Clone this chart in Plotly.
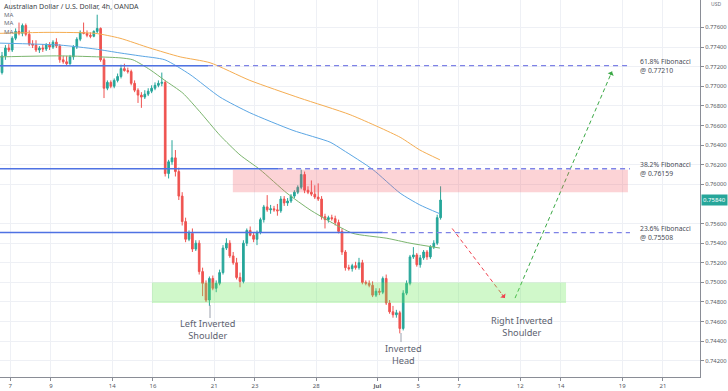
import plotly.graph_objects as go

# ---------------- data ----------------
opens = [0.7714,0.7731,0.7739,0.7737,0.7749,0.7756,0.7754,0.7762,0.7753,0.7743,
         0.7742,0.7737,0.7739,0.7738,0.7742,0.7740,0.7745,0.7741,0.7727,0.7725,
         0.7723,0.7730,0.7740,0.7748,0.7755,0.7754,0.7752,0.7751,0.7756,0.7759,
         0.7727,0.7698,0.7704,0.7700,0.7706,0.7710,0.7718,0.7716,0.7715,0.7703,
         0.7696,0.7691,0.7689,0.7692,0.7695,0.7698,0.7701,0.7703,0.7704,0.7611,
         0.7623,0.7627,0.7613,0.7588,0.7562,0.7544,0.7550,0.7534,0.7540,0.7511,
         0.7499,0.7482,0.7504,0.7494,0.7499,0.7510,0.7535,0.7540,0.7527,0.7520,
         0.7505,0.7501,0.7540,0.7553,0.7548,0.7544,0.7551,0.7564,0.7577,0.7574,
         0.7575,0.7574,0.7573,0.7585,0.7581,0.7583,0.7588,0.7592,0.7597,0.7610,
         0.7594,0.7592,0.7590,0.7587,0.7585,0.7567,0.7564,0.7566,0.7565,0.7561,
         0.7552,0.7531,0.7515,0.7514,0.7517,0.7515,0.7520,0.7500,0.7499,0.7497,
         0.7487,0.7491,0.7490,0.7504,0.7479,0.7470,0.7467,0.7469,0.7453,0.7489,
         0.7499,0.7526,0.7528,0.7518,0.7525,0.7531,0.7526,0.7536,0.7540,0.7566]
highs = [0.7735,0.7742,0.7743,0.7751,0.7759,0.7765,0.7764,0.7764,0.7757,0.7747,
         0.7747,0.7741,0.7743,0.7744,0.7745,0.7747,0.7749,0.7743,0.7731,0.7731,
         0.7732,0.7742,0.7750,0.7757,0.7765,0.7757,0.7755,0.7757,0.7773,0.7760,
         0.7729,0.7706,0.7706,0.7708,0.7713,0.7722,0.7723,0.7719,0.7717,0.7706,
         0.7698,0.7694,0.7696,0.7698,0.7701,0.7704,0.7706,0.7714,0.7706,0.7625,
         0.7645,0.7635,0.7617,0.7592,0.7566,0.7553,0.7555,0.7543,0.7543,0.7515,
         0.7502,0.7506,0.7507,0.7502,0.7513,0.7538,0.7545,0.7543,0.7531,0.7525,
         0.7510,0.7543,0.7555,0.7557,0.7551,0.7553,0.7566,0.7579,0.7589,0.7579,
         0.7578,0.7580,0.7588,0.7588,0.7586,0.7590,0.7594,0.7599,0.7615,0.7613,
         0.7598,0.7604,0.7599,0.7601,0.7588,0.7570,0.7568,0.7569,0.7568,0.7564,
         0.7555,0.7533,0.7518,0.7519,0.7521,0.7525,0.7523,0.7502,0.7502,0.7501,
         0.7494,0.7494,0.7506,0.7508,0.7482,0.7476,0.7472,0.7471,0.7492,0.7502,
         0.7528,0.7536,0.7530,0.7528,0.7533,0.7533,0.7538,0.7543,0.7569,0.7598]
lows  = [0.7712,0.7727,0.7735,0.7735,0.7747,0.7752,0.7751,0.7751,0.7741,0.7739,
         0.7735,0.7734,0.7735,0.7736,0.7737,0.7738,0.7739,0.7724,0.7723,0.7721,
         0.7722,0.7727,0.7738,0.7746,0.7753,0.7750,0.7749,0.7750,0.7754,0.7725,
         0.7688,0.7696,0.7698,0.7698,0.7704,0.7708,0.7715,0.7713,0.7701,0.7694,
         0.7683,0.7678,0.7687,0.7690,0.7693,0.7696,0.7699,0.7700,0.7608,0.7606,
         0.7620,0.7608,0.7584,0.7558,0.7541,0.7542,0.7531,0.7532,0.7508,0.7486,
         0.7480,0.7476,0.7492,0.7490,0.7497,0.7508,0.7533,0.7525,0.7518,0.7503,
         0.7495,0.7499,0.7537,0.7547,0.7541,0.7538,0.7549,0.7561,0.7572,0.7570,
         0.7572,0.7568,0.7571,0.7578,0.7578,0.7581,0.7586,0.7590,0.7595,0.7591,
         0.7590,0.7588,0.7585,0.7583,0.7564,0.7555,0.7561,0.7563,0.7558,0.7550,
         0.7528,0.7512,0.7512,0.7511,0.7513,0.7513,0.7498,0.7497,0.7495,0.7485,
         0.7485,0.7487,0.7488,0.7477,0.7468,0.7464,0.7464,0.7448,0.7451,0.7487,
         0.7497,0.7524,0.7516,0.7515,0.7523,0.7523,0.7524,0.7534,0.7538,0.7564]
closes = [0.7731,0.7739,0.7737,0.7749,0.7756,0.7754,0.7762,0.7753,0.7743,0.7742,
          0.7737,0.7739,0.7738,0.7742,0.7740,0.7745,0.7741,0.7727,0.7725,0.7723,
          0.7730,0.7740,0.7748,0.7755,0.7754,0.7752,0.7751,0.7756,0.7759,0.7727,
          0.7698,0.7704,0.7700,0.7706,0.7710,0.7718,0.7716,0.7715,0.7703,0.7696,
          0.7691,0.7689,0.7692,0.7695,0.7698,0.7701,0.7703,0.7704,0.7611,0.7623,
          0.7627,0.7613,0.7588,0.7562,0.7544,0.7550,0.7534,0.7540,0.7511,0.7499,
          0.7482,0.7504,0.7494,0.7499,0.7510,0.7535,0.7540,0.7527,0.7520,0.7505,
          0.7501,0.7540,0.7553,0.7548,0.7544,0.7551,0.7564,0.7577,0.7574,0.7575,
          0.7574,0.7573,0.7585,0.7581,0.7583,0.7588,0.7592,0.7597,0.7610,0.7594,
          0.7592,0.7590,0.7587,0.7585,0.7567,0.7564,0.7566,0.7565,0.7561,0.7552,
          0.7531,0.7515,0.7514,0.7517,0.7515,0.7520,0.7500,0.7499,0.7497,0.7487,
          0.7491,0.7490,0.7504,0.7479,0.7470,0.7467,0.7469,0.7453,0.7489,0.7499,
          0.7526,0.7528,0.7518,0.7525,0.7531,0.7526,0.7536,0.7540,0.7566,0.7584]
bar_index = list(range(len(closes)))

ma_orange_x = [-0.6, 14.1, 27.4, 34.7, 43.5, 52.4, 61.2, 72.9, 87.6, 102.4, 117.1, 122.9, 128.8]
ma_orange_y = [0.7754, 0.7755, 0.7754, 0.7749, 0.7739, 0.7730, 0.7724, 0.7706, 0.7688, 0.7671, 0.7648, 0.7635, 0.7625]
ma_blue_x = [-0.6, 17.1, 27.4, 34.7, 40.6, 47.9, 55.3, 64.1, 72.9, 85.6, 96.5, 100.3, 109.1, 117.1, 122.9, 128.8]
ma_blue_y = [0.7744, 0.7742, 0.7738, 0.7734, 0.7731, 0.7727, 0.7712, 0.7689, 0.7673, 0.7655, 0.7643, 0.7635, 0.7615, 0.7591, 0.7579, 0.7570]
ma_green_x = [-0.6, 17.1, 34.7, 38.5, 43.5, 47.9, 53.2, 58.2, 64.1, 70.0, 75.9, 83.8, 90.6, 96.5, 103.2, 113.2, 120.0, 128.8]
ma_green_y = [0.7730, 0.7731, 0.7729, 0.7727, 0.7717, 0.7706, 0.7693, 0.7674, 0.7650, 0.7630, 0.7615, 0.7591, 0.7574, 0.7562, 0.7550, 0.7545, 0.7540, 0.7535]

fib_levels = [0.77210, 0.76159, 0.75508]
fib_names = ["61.8% Fibonacci", "38.2% Fibonacci", "23.6% Fibonacci"]
fib_value_text = ["@ 0.77210", "@ 0.76159", "@ 0.75508"]
fib_solid_end = [60.6, 81.2, 112.0]

resistance_zone = [0.7592, 0.7615]
support_zone = [0.7479, 0.7500]

proj_red_x = [132.4, 147.9]
proj_red_y = [0.7555, 0.7484]
proj_green_x = [150.9, 179.4]
proj_green_y = [0.7484, 0.7715]

pattern_labels = ["Left Inverted<br>Shoulder", "Inverted<br>Head", "Right Inverted<br>Shoulder"]

tick_days = [0, 2, 5, 7, 10, 12, 15, 18, 20, 22, 25, 27, 30, 32]
tick_text = ['7', '9', '14', '16', '21', '23', '28', '<b>Jul</b>', '5', '7', '12', '14', '19', '21']
price_ticks = [0.742, 0.744, 0.746, 0.748, 0.750, 0.752, 0.754, 0.756, 0.760,
               0.762, 0.764, 0.766, 0.768, 0.770, 0.772, 0.774, 0.776]
last_price = 0.7584

# ---------------- layout helpers ----------------
W, H = 728, 391
ML, MR, MT, MB = 0, 28, 0, 14
PW, PH = W - ML - MR, H - MT - MB
X0, X1 = -0.59, 205.3
Y0, Y1 = 0.74035, 0.7788
FONT = "Noto Sans, DejaVu Sans, sans-serif"

def px(x):
    return x / PW
def py(y):
    return 1 - y / PH

fig = go.Figure()

fig.add_trace(go.Candlestick(
    x=bar_index, open=opens, high=highs, low=lows, close=closes,
    increasing=dict(line=dict(color='#26a69a', width=1), fillcolor='#26a69a'),
    decreasing=dict(line=dict(color='#ef5350', width=1), fillcolor='#ef5350'),
    whiskerwidth=0, showlegend=False, hoverinfo='skip'))

for xs, ys, col in [(ma_orange_x, ma_orange_y, '#f5ad52'),
                    (ma_blue_x, ma_blue_y, '#5ba6e4'),
                    (ma_green_x, ma_green_y, '#7bb56e')]:
    fig.add_trace(go.Scatter(x=xs, y=ys, mode='lines', line=dict(color=col, width=1, shape='spline', smoothing=0.6),
                             showlegend=False, hoverinfo='skip'))

fig.add_trace(go.Scatter(x=proj_red_x, y=proj_red_y, mode='lines',
                         line=dict(color='#f0434f', width=1, dash='4px,3px'), showlegend=False, hoverinfo='skip'))
fig.add_trace(go.Scatter(x=proj_green_x, y=proj_green_y, mode='lines',
                         line=dict(color='#3aa845', width=1, dash='4px,3px'), showlegend=False, hoverinfo='skip'))

shapes = []
shapes.append(dict(type='rect', xref='x', yref='y', x0=67.9, x1=184.1, y0=resistance_zone[0], y1=resistance_zone[1],
                   fillcolor='rgba(242,80,90,0.25)', line=dict(width=0), layer='above'))
shapes.append(dict(type='rect', xref='x', yref='y', x0=44.1, x1=165.9, y0=support_zone[0], y1=support_zone[1],
                   fillcolor='rgba(110,232,90,0.32)', line=dict(width=0), layer='above'))
for lvl, send in zip(fib_levels, fib_solid_end):
    shapes.append(dict(type='line', xref='x', yref='y', x0=X0, x1=send, y0=lvl, y1=lvl,
                       line=dict(color='#4f72e3', width=1.5), layer='above'))
    shapes.append(dict(type='line', xref='x', yref='y', x0=send, x1=184.7, y0=lvl, y1=lvl,
                       line=dict(color='#7e82e6', width=1.3, dash='5px,4px'), layer='above'))
shapes.append(dict(type='line', xref='paper', yref='paper', x0=px(210), x1=px(210), y0=py(305), y1=py(318),
                   line=dict(color='#9aa0ad', width=1)))
shapes.append(dict(type='line', xref='paper', yref='paper', x0=px(401), x1=px(401), y0=py(333), y1=py(342),
                   line=dict(color='#9aa0ad', width=1)))
fig.update_layout(shapes=shapes)

ann = []
ann.append(dict(x=proj_red_x[1], y=proj_red_y[1], ax=proj_red_x[1] - 1.2, ay=proj_red_y[1] + 0.00055,
                xref='x', yref='y', axref='x', ayref='y', text='', showarrow=True,
                arrowhead=1, arrowsize=1.1, arrowwidth=1, arrowcolor='#f0434f'))
ann.append(dict(x=proj_green_x[1], y=proj_green_y[1], ax=proj_green_x[1] - 0.6, ay=proj_green_y[1] - 0.0005,
                xref='x', yref='y', axref='x', ayref='y', text='', showarrow=True,
                arrowhead=1, arrowsize=1.1, arrowwidth=1, arrowcolor='#3aa845'))
for lvl, nm, vt in zip(fib_levels, fib_names, fib_value_text):
    ann.append(dict(x=187.4, y=lvl, xref='x', yref='y', text=nm + '<br>' + vt, showarrow=False,
                    xanchor='left', yanchor='middle', align='left', borderpad=0,
                    font=dict(family=FONT, size=6.8, color='#4a4d57')))
lab_font = dict(family=FONT, size=9.2, color='#5d6270')
for txt, xx, yy in zip(pattern_labels, [207, 403, 522], [329.8, 354.8, 326.3]):
    ann.append(dict(x=px(xx), y=py(yy), xref='paper', yref='paper', text=txt, showarrow=False,
                    xanchor='center', yanchor='middle', align='center', borderpad=0, font=lab_font))
ann.append(dict(x=px(3), y=py(6.2), xref='paper', yref='paper', text='Australian Dollar / U.S. Dollar, 4h, OANDA',
                showarrow=False, xanchor='left', yanchor='middle', borderpad=0,
                font=dict(family=FONT, size=7, color='#3c3f48')))
for yy in [15.3, 23.5, 31.7]:
    ann.append(dict(x=px(3), y=py(yy), xref='paper', yref='paper', text='MA', showarrow=False,
                    xanchor='left', yanchor='middle', borderpad=0,
                    font=dict(family=FONT, size=6, color='#6a6d78')))
ann.append(dict(x=1, y=last_price, xref='paper', yref='y', text='0.75840', showarrow=False, xanchor='left',
                yanchor='middle', xshift=1, bgcolor='#26a69a', borderpad=1,
                font=dict(family=FONT, size=6, color='white')))
ann.append(dict(x=1, y=py(4), xref='paper', yref='paper', text='USD', showarrow=False, xanchor='left',
                yanchor='middle', xshift=10, borderpad=0,
                font=dict(family=FONT, size=5, color='#6a6d78')))
fig.update_layout(annotations=ann)

fig.update_layout(
    width=W, height=H, margin=dict(l=ML, r=MR, t=MT, b=MB, autoexpand=False),
    paper_bgcolor='white', plot_bgcolor='white', showlegend=False,
    xaxis=dict(range=[X0, X1], rangeslider=dict(visible=False), automargin=False,
               tickvals=[2.4 + 6 * d for d in tick_days], ticktext=tick_text,
               showgrid=True, gridcolor='#eef0f5', gridwidth=1, zeroline=False,
               showline=True, linecolor='#8a8d96', linewidth=1,
               ticks='outside', ticklen=3, tickcolor='#8a8d96',
               tickfont=dict(family=FONT, size=6, color='#555862')),
    yaxis=dict(range=[Y0, Y1], side='right', tickvals=price_ticks, automargin=False,
               tickformat='.5f', showgrid=True, gridcolor='#eef0f5', gridwidth=1, zeroline=False,
               showline=True, linecolor='#8a8d96', linewidth=1,
               ticks='outside', ticklen=3, tickcolor='#8a8d96',
               tickfont=dict(family=FONT, size=5.8, color='#555862')),
)

fig.write_html("out.html", config={'displayModeBar': False},
               post_script="document.body.style.margin='0';document.body.style.overflow='hidden';")
